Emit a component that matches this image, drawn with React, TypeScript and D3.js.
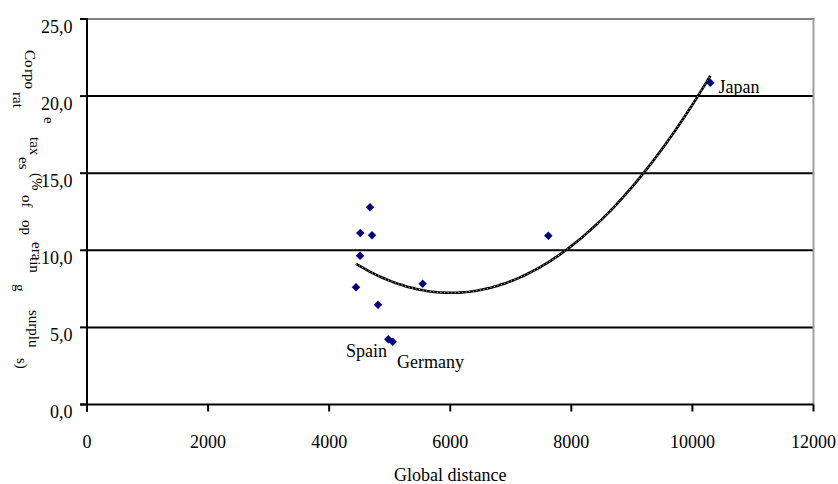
import React from "react";
import * as d3 from "d3";

const distance = [4443, 4510, 4514, 4675, 4708, 4807, 4977, 5049, 5545, 7620, 10296];
const taxRate = [7.6, 9.65, 11.12, 12.79, 10.97, 6.47, 4.23, 4.07, 7.83, 10.95, 20.87];
const pointLabels = ["", "", "", "", "", "", "Spain", "Germany", "", "", "Japan"];
const yTicks = [0, 5, 10, 15, 20, 25];
const xTicks = [0, 2000, 4000, 6000, 8000, 10000, 12000];
const yTitleParts = [
  { t: "Co", x: 24.5, y: 50 },
  { t: "rpo", x: 24.5, y: 69 },
  { t: "rat", x: 13, y: 92 },
  { t: "e", x: 43.5, y: 117 },
  { t: "tax", x: 30, y: 137 },
  { t: "es", x: 18.5, y: 157 },
  { t: "(%", x: 32, y: 173 },
  { t: "of", x: 22, y: 195 },
  { t: "op", x: 22, y: 220 },
  { t: "era", x: 32, y: 242 },
  { t: "tin", x: 30, y: 257 },
  { t: "g", x: 15, y: 284 },
  { t: "surplu", x: 29, y: 310 },
  { t: "s)", x: 17, y: 358 },
];

function quadFit(xs: number[], ys: number[]) {
  // least squares fit y = a + b x + c x^2 (x scaled for stability)
  const s = 1000;
  const n = xs.length;
  const S = [0, 0, 0, 0, 0];
  const T = [0, 0, 0];
  for (let i = 0; i < n; i++) {
    const xv = xs[i] / s;
    const yv = ys[i];
    for (let k = 0; k < 5; k++) S[k] += Math.pow(xv, k);
    for (let k = 0; k < 3; k++) T[k] += yv * Math.pow(xv, k);
  }
  const M = [
    [S[0], S[1], S[2], T[0]],
    [S[1], S[2], S[3], T[1]],
    [S[2], S[3], S[4], T[2]],
  ];
  for (let i = 0; i < 3; i++) {
    let p = i;
    for (let r = i + 1; r < 3; r++) if (Math.abs(M[r][i]) > Math.abs(M[p][i])) p = r;
    [M[i], M[p]] = [M[p], M[i]];
    for (let r = 0; r < 3; r++) {
      if (r === i) continue;
      const f = M[r][i] / M[i][i];
      for (let c = i; c < 4; c++) M[r][c] -= f * M[i][c];
    }
  }
  const a = M[0][3] / M[0][0];
  const b = M[1][3] / M[1][1];
  const c = M[2][3] / M[2][2];
  return (xv: number) => a + b * (xv / s) + c * (xv / s) * (xv / s);
}

export default function App() {
  const W = 838, H = 484;
  const x = d3.scaleLinear().domain([0, 12000]).range([87, 813.5]);
  const y = d3.scaleLinear().domain([0, 25]).range([404.5, 19]);
  const font = "'Liberation Serif', 'Times New Roman', serif";

  const f = quadFit(distance, taxRate);
  const x0 = d3.min(distance)!, x1 = d3.max(distance)!;
  const trend = d3.range(0, 101).map((i) => {
    const xv = x0 + ((x1 - x0) * i) / 100;
    return [xv, f(xv)] as [number, number];
  });
  const line = d3.line<[number, number]>().x((d) => x(d[0])).y((d) => y(d[1]));
  const marker = d3.symbol(d3.symbolSquare, 36)()!;

  return (
    <svg width={W} height={H} style={{ position: "absolute", left: 0, top: 0, background: "#fff" }} fontFamily={font}>
      {yTicks.filter((v) => v > 0 && v < 25).map((v) => (
        <line key={"g" + v} x1={x(0)} x2={x(12000)} y1={y(v)} y2={y(v)} stroke="#000" strokeWidth={2} />
      ))}
      <line x1={x(0)} x2={x(12000) + 1} y1={y(25)} y2={y(25)} stroke="#808080" strokeWidth={2} />
      <line x1={x(12000)} x2={x(12000)} y1={y(25)} y2={y(0)} stroke="#a0a0a0" strokeWidth={2} />
      <line x1={x(0)} x2={x(0)} y1={y(25) - 1} y2={y(0) + 7} stroke="#000" strokeWidth={2} />
      <line x1={x(0) - 7} x2={x(12000)} y1={y(0)} y2={y(0)} stroke="#000" strokeWidth={2} />
      {yTicks.map((v) => (
        <g key={"yt" + v}>
          <line x1={x(0) - 7} x2={x(0)} y1={y(v)} y2={y(v)} stroke="#000" strokeWidth={2} />
          <text x={72.5} y={y(v) + 13.5} fontSize={18} textAnchor="end" fill="#000">
            {d3.format(".1f")(v).replace(".", ",")}
          </text>
        </g>
      ))}
      {xTicks.map((v) => (
        <g key={"xt" + v}>
          <line x1={x(v)} x2={x(v)} y1={y(0)} y2={y(0) + 7} stroke="#000" strokeWidth={2} />
          <text x={x(v)} y={448} fontSize={18} textAnchor="middle" fill="#000">{v}</text>
        </g>
      ))}
      <text x={(x(0) + x(12000)) / 2} y={481} fontSize={18} textAnchor="middle" fill="#000">Global distance</text>
      {yTitleParts.map((p, i) => (
        <text key={"yp" + i} transform={`translate(${p.x},${p.y}) rotate(90)`} fontSize={15} fill="#000">{p.t}</text>
      ))}
      <path d={line(trend)!} fill="none" stroke="#000" strokeWidth={2.6} />
      <path d={line(trend)!} fill="none" stroke="#fff" strokeWidth={0.8} strokeDasharray="1.2 2.4" />
      {distance.map((d, i) => (
        <path key={"p" + i} d={marker} transform={`translate(${x(d)},${y(taxRate[i])}) rotate(45)`} fill="#000080" />
      ))}
      <text x={718.5} y={93} fontSize={18} fill="#000">{pointLabels[10]}</text>
      <text x={346} y={357} fontSize={18} fill="#000">{pointLabels[6]}</text>
      <text x={397} y={367.5} fontSize={18} fill="#000">{pointLabels[7]}</text>
    </svg>
  );
}
